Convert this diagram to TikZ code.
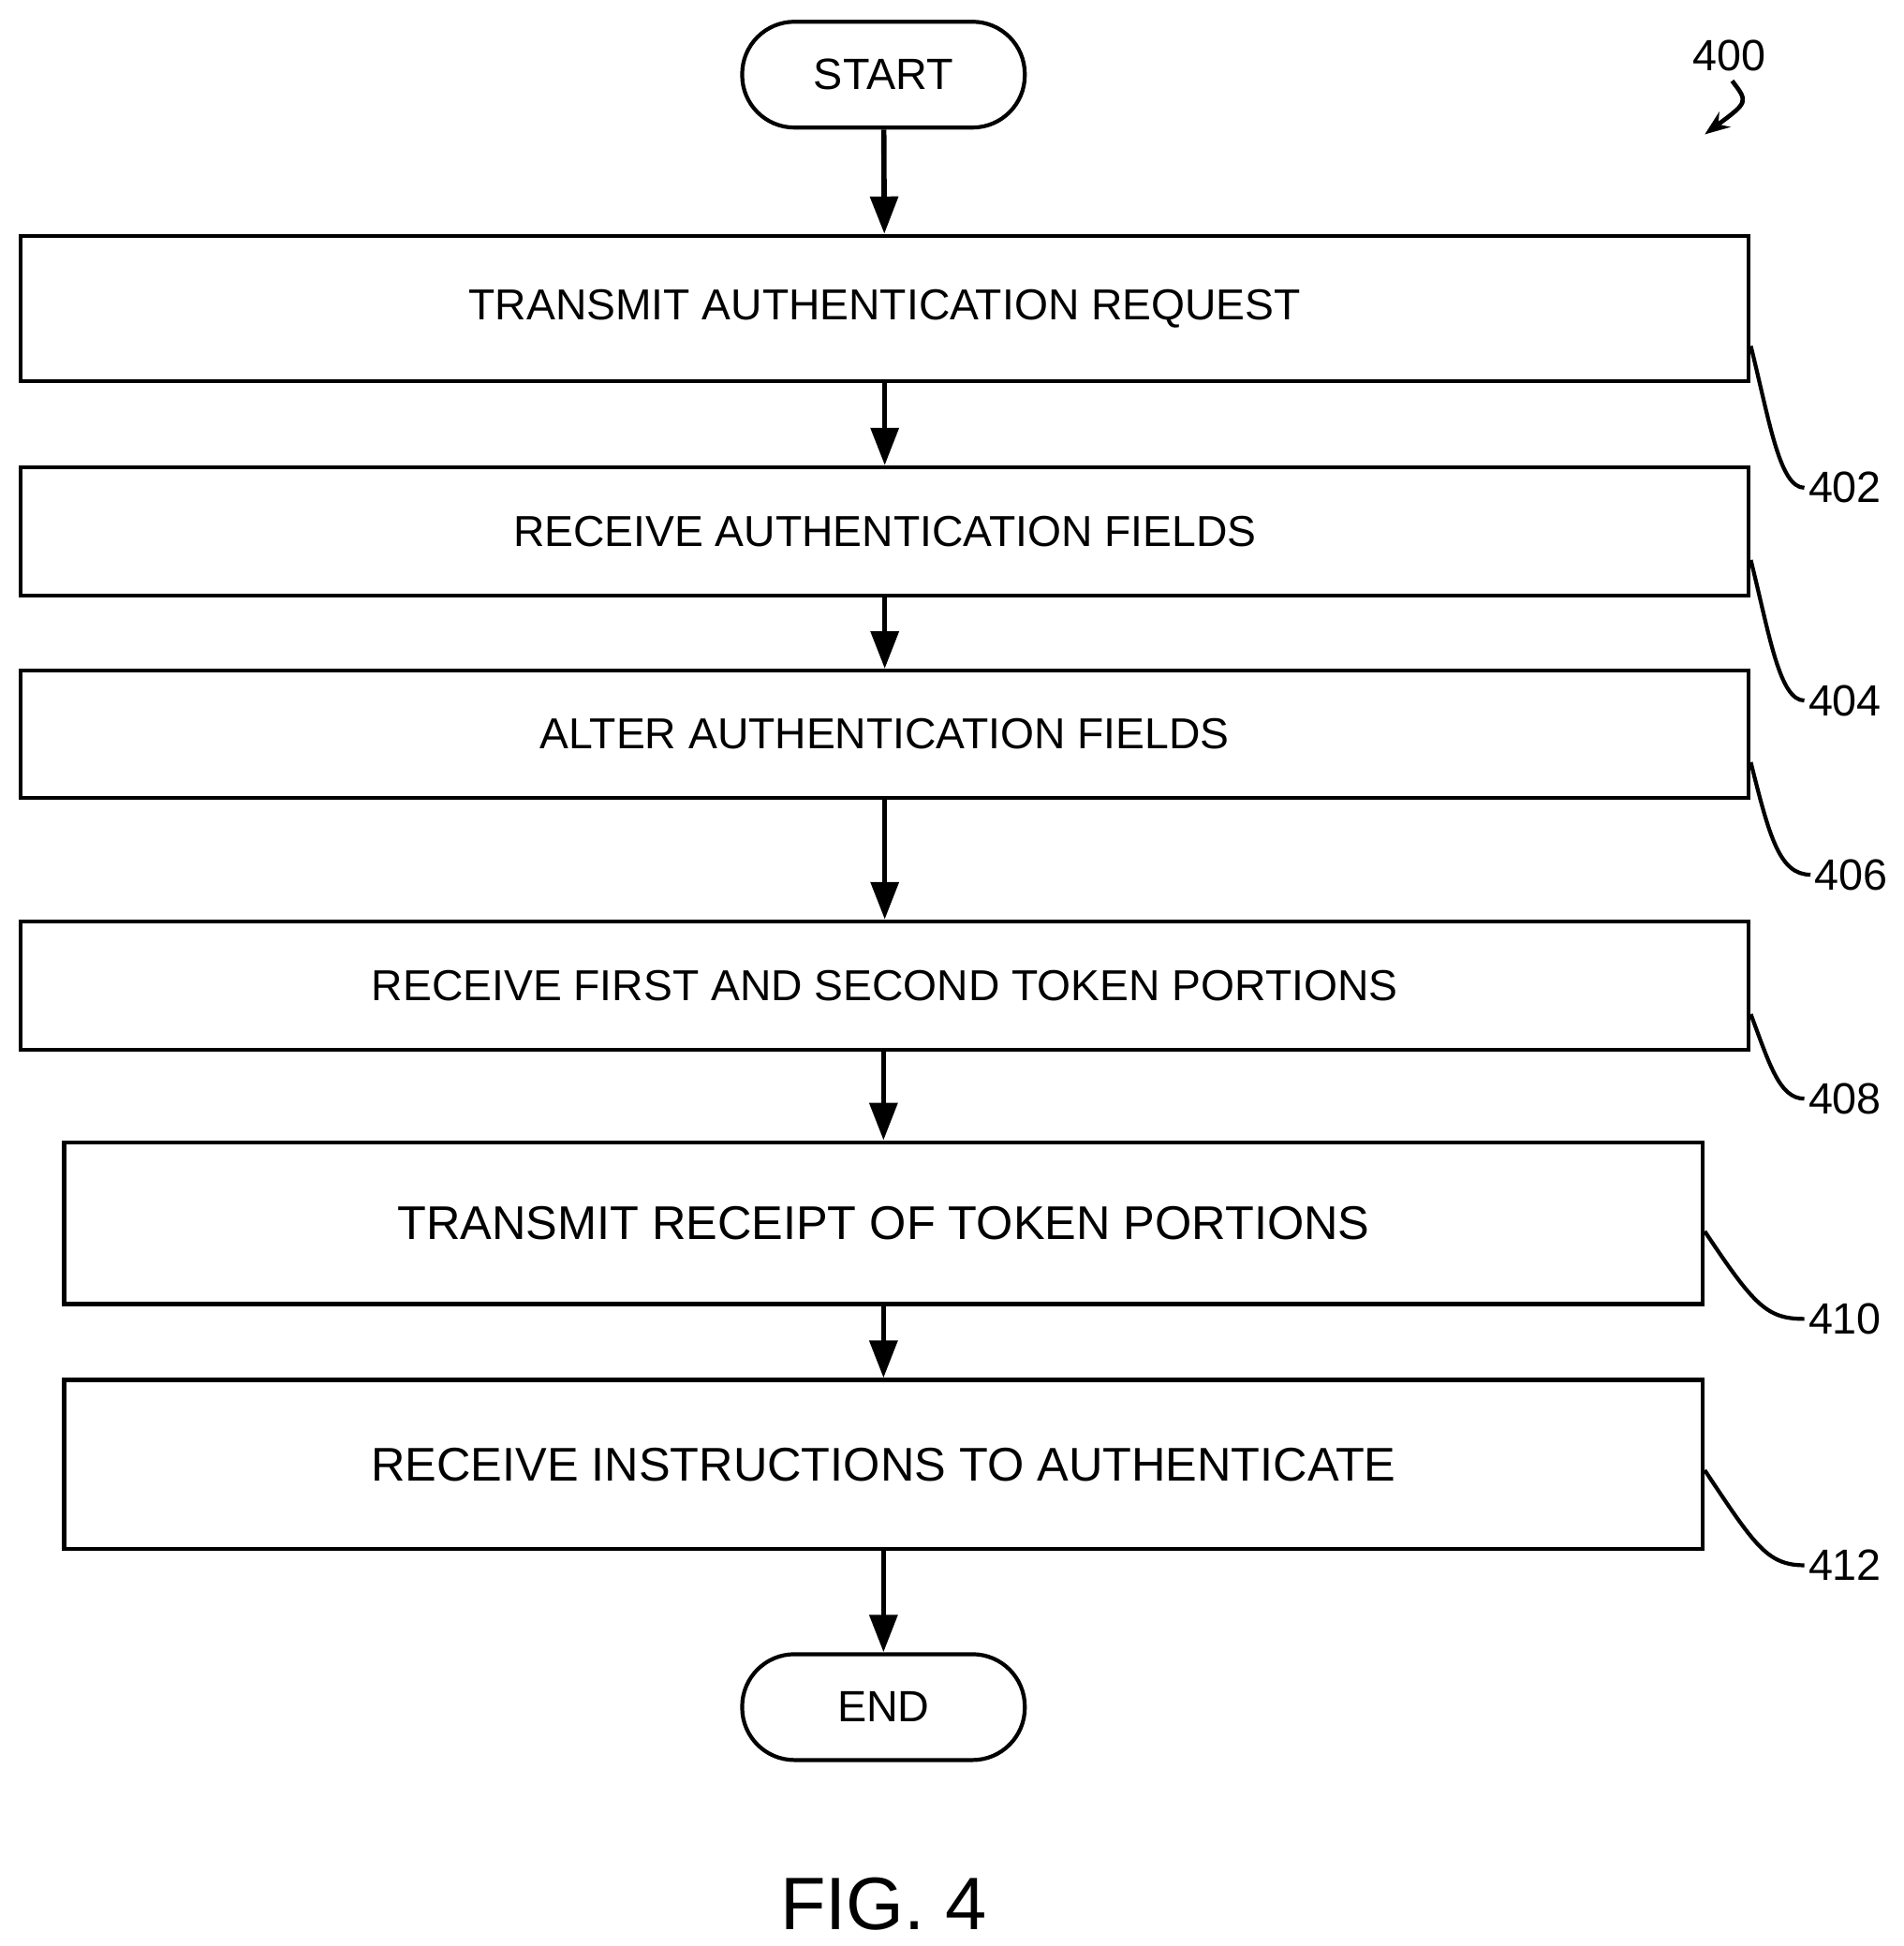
\documentclass[tikz,border=0pt]{standalone}
\usepackage{fontspec}
\setmainfont{Liberation Sans}
\usetikzlibrary{arrows.meta}
\begin{document}
\begin{tikzpicture}[x=0.01cm,y=-0.01cm,line width=0.9pt,
  box/.style={draw,rectangle,minimum height=#1*0.01cm,font=\fontsize{9.9}{12}\selectfont},
  term/.style={draw,rounded corners=0.42cm,minimum width=2.27cm,minimum height=0.85cm,font=\fontsize{10}{12}\selectfont},
  arr/.style={-{Triangle[length=0.3cm,width=0.22cm]},line width=1.2pt},
  lead/.style={line width=0.9pt},
  num/.style={font=\fontsize{10}{12}\selectfont,anchor=west,inner sep=0.5pt}]
\useasboundingbox (0,0) rectangle (1530,1564);
\node[term] (s) at (710,60) {START};
\node[box=117,minimum width=13.88cm] (b1) at (711,248) {TRANSMIT AUTHENTICATION REQUEST};
\node[box=103,minimum width=13.88cm] (b2) at (711,427) {RECEIVE AUTHENTICATION FIELDS};
\node[box=102,minimum width=13.88cm] (b3) at (711,590) {ALTER AUTHENTICATION FIELDS};
\node[box=103,minimum width=13.88cm] (b4) at (711,792) {RECEIVE FIRST AND SECOND TOKEN PORTIONS};
\node[box=130,minimum width=13.16cm,font=\fontsize{10.8}{14}\selectfont] (b5) at (710,983) {TRANSMIT RECEIPT OF TOKEN PORTIONS};
\node[box=136,minimum width=13.16cm,font=\fontsize{10.8}{14}\selectfont] (b6) at (710,1177) {RECEIVE INSTRUCTIONS TO AUTHENTICATE};
\node[term] (e) at (710,1372) {END};
\node[font=\fontsize{17}{20}\selectfont] (fig) at (710,1530) {FIG. 4};
\draw[arr] (s) -- (b1);
\draw[arr] (b1) -- (b2);
\draw[arr] (b2) -- (b3);
\draw[arr] (b3) -- (b4);
\draw[arr] (b4.south -| b5.north) -- (b5);
\draw[arr] (b5) -- (b6);
\draw[arr] (b6) -- (e);
\node[font=\fontsize{10}{12}\selectfont] (n400) at (1390,45) {400};
\coordinate (a400) at (1370,108);
\draw[-{Stealth[length=0.2cm]},line width=1pt] (1392,65) .. controls (1405,82) .. (a400);
\node[num] (n402) at (1450,392) {402};
\node[num] (n404) at (1450,563) {404};
\node[num] (n406) at (1455,703) {406};
\node[num] (n408) at (1450,883) {408};
\node[num] (n410) at (1450,1060) {410};
\node[num] (n412) at (1450,1258) {412};
\draw[lead] (b1.south east) ++(0,-30) .. controls +(15,60) and +(-20,0) .. (n402.west);
\draw[lead] (b2.south east) ++(0,-30) .. controls +(15,60) and +(-20,0) .. (n404.west);
\draw[lead] (b3.south east) ++(0,-30) .. controls +(15,60) and +(-25,0) .. (n406.west);
\draw[lead] (b4.south east) ++(0,-30) .. controls +(15,40) and +(-20,0) .. (n408.west);
\draw[lead] (b5.south east) ++(0,-60) .. controls +(40,60) and +(-30,0) .. (n410.west);
\draw[lead] (b6.south east) ++(0,-65) .. controls +(40,60) and +(-30,0) .. (n412.west);
\end{tikzpicture}
\end{document}
